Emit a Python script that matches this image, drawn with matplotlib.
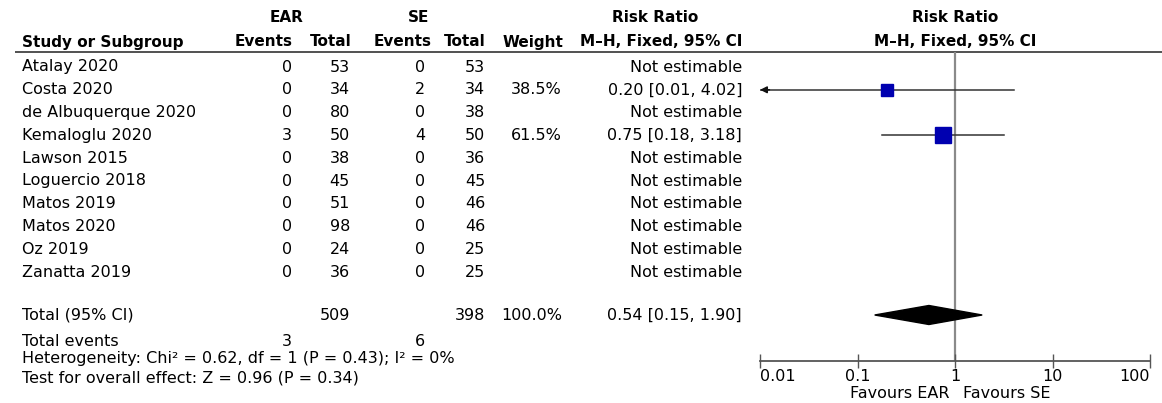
import matplotlib.pyplot as plt
import numpy as np

# Study level data
studies = ["Atalay 2020", "Costa 2020", "de Albuquerque 2020", "Kemaloglu 2020",
           "Lawson 2015", "Loguercio 2018", "Matos 2019", "Matos 2020",
           "Oz 2019", "Zanatta 2019"]
ear_events = [0, 0, 0, 3, 0, 0, 0, 0, 0, 0]
ear_total = [53, 34, 80, 50, 38, 45, 51, 98, 24, 36]
se_events = [0, 2, 0, 4, 0, 0, 0, 0, 0, 0]
se_total = [53, 34, 38, 50, 36, 45, 46, 46, 25, 25]
weights = [None, 38.5, None, 61.5, None, None, None, None, None, None]
rr = [None, 0.20, None, 0.75, None, None, None, None, None, None]
rr_low = [None, 0.01, None, 0.18, None, None, None, None, None, None]
rr_high = [None, 4.02, None, 3.18, None, None, None, None, None, None]

# Pooled results
total_ear = 509
total_se = 398
total_weight = 100.0
total_events_ear = 3
total_events_se = 6
pooled_rr, pooled_low, pooled_high = 0.54, 0.15, 1.90
heterogeneity = "Heterogeneity: Chi\u00b2 = 0.62, df = 1 (P = 0.43); I\u00b2 = 0%"
overall = "Test for overall effect: Z = 0.96 (P = 0.34)"

xticks = [0.01, 0.1, 1, 10, 100]
xtick_labels = ["0.01", "0.1", "1", "10", "100"]

#-------------------------------------------------------------------------------

W, H = 1162, 403
fig = plt.figure(figsize=(W / 100, H / 100), dpi=100)
plt.rcParams['font.family'] = 'DejaVu Sans'

# table axes in pixel coordinates
ax = fig.add_axes([0, 0, 1, 1])
ax.set_xlim(0, W)
ax.set_ylim(H, 0)
ax.axis('off')

fs = 11.5     # body text
fs_hdr = 11   # header text (bold)
col_study = 22
col_ear_ev, col_ear_tot = 292, 350
col_se_ev, col_se_tot = 425, 485
col_weight, col_rr = 562, 742
row0, row_step = 67, 22.8

# headers
hdr = dict(fontsize=fs_hdr, fontweight='bold', va='center')
ax.text(287, 18, "EAR", ha='center', **hdr)
ax.text(419, 18, "SE", ha='center', **hdr)
ax.text(655, 18, "Risk Ratio", ha='center', **hdr)
ax.text(col_study, 42, "Study or Subgroup", ha='left', **hdr)
ax.text(col_ear_ev + 1, 42, "Events", ha='right', **hdr)
ax.text(col_ear_tot + 2, 42, "Total", ha='right', **hdr)
ax.text(col_se_ev + 7, 42, "Events", ha='right', **hdr)
ax.text(col_se_tot + 1, 42, "Total", ha='right', **hdr)
ax.text(col_weight + 1, 42, "Weight", ha='right', **hdr)
ax.text(col_rr, 42, "M\u2013H, Fixed, 95% CI", ha='right', **hdr)
ax.text(955, 18, "Risk Ratio", ha='center', **hdr)
ax.text(955, 42, "M\u2013H, Fixed, 95% CI", ha='center', **hdr)
ax.hlines(52, 15, W, color='#333333', lw=1.2)

body = dict(fontsize=fs, va='center')
row_y = [row0 + i * row_step for i in range(len(studies))]
for i, y in enumerate(row_y):
  ax.text(col_study, y, studies[i], ha='left', **body)
  ax.text(col_ear_ev, y, str(ear_events[i]), ha='right', **body)
  ax.text(col_ear_tot, y, str(ear_total[i]), ha='right', **body)
  ax.text(col_se_ev, y, str(se_events[i]), ha='right', **body)
  ax.text(col_se_tot, y, str(se_total[i]), ha='right', **body)
  if weights[i] is not None:
    ax.text(col_weight, y, "{:.1f}%".format(weights[i]), ha='right', **body)
    ax.text(col_rr, y, "{:.2f} [{:.2f}, {:.2f}]".format(rr[i], rr_low[i], rr_high[i]), ha='right', **body)
  else:
    ax.text(col_rr, y, "Not estimable", ha='right', **body)

y_total = 315
ax.text(col_study, y_total, "Total (95% CI)", ha='left', **body)
ax.text(col_ear_tot, y_total, str(total_ear), ha='right', **body)
ax.text(col_se_tot, y_total, str(total_se), ha='right', **body)
ax.text(col_weight, y_total, "{:.1f}%".format(total_weight), ha='right', **body)
ax.text(col_rr, y_total, "{:.2f} [{:.2f}, {:.2f}]".format(pooled_rr, pooled_low, pooled_high), ha='right', **body)
ax.text(col_study, 341, "Total events", ha='left', **body)
ax.text(col_ear_ev, 341, str(total_events_ear), ha='right', **body)
ax.text(col_se_ev, 341, str(total_events_se), ha='right', **body)
ax.text(col_study, 359, heterogeneity, ha='left', **body)
ax.text(col_study, 378, overall, ha='left', **body)

#--- forest plot ---------------------------------------------------------------

ax_top, ax_bot = 52, 361
axf = fig.add_axes([760 / W, (H - ax_bot) / H, 390 / W, (ax_bot - ax_top) / H])
axf.set_xscale('log')
axf.set_xlim(0.01, 100)
axf.set_ylim(ax_bot, ax_top)
axf.patch.set_alpha(0)
for s in ['top', 'left', 'right']:
  axf.spines[s].set_visible(False)
axf.spines['bottom'].set_color('#555555')
axf.spines['bottom'].set_linewidth(1.3)
axf.set_yticks([])
axf.set_xticks(xticks)
axf.set_xticklabels(xtick_labels, fontsize=fs)
axf.minorticks_off()
axf.tick_params(axis='x', direction='inout', length=10, width=1, color='#555555', pad=1)
labels = axf.get_xticklabels()
labels[0].set_ha('left')
labels[-1].set_ha('right')

axf.axvline(1, color='#8a8a8a', lw=1.6, zorder=1)

for i, y in enumerate(row_y):
  if rr[i] is None:
    continue
  lo = max(rr_low[i], 0.01)
  axf.plot([lo, rr_high[i]], [y, y], color='#333333', lw=1.1, zorder=2)
  if rr_low[i] < 0.0101:
    axf.annotate("", xy=(0.01, y), xytext=(0.0125, y),
                 arrowprops=dict(arrowstyle='-|>', color='#111111', lw=1.1,
                                 mutation_scale=10, shrinkA=0, shrinkB=0))
  size = 14.7 * np.sqrt(weights[i] / 100.0)
  axf.plot(rr[i], y, marker='s', ms=size, color='#0000b0', mec='#0000b0', zorder=3)

hh = 9.5
axf.fill([pooled_low, pooled_rr, pooled_high, pooled_rr],
         [y_total, y_total - hh, y_total, y_total + hh], color='black', zorder=3)

axf.annotate("Favours EAR", xy=(1, 0), xycoords=('data', 'axes fraction'),
             xytext=(-6, -32), textcoords='offset pixels', ha='right', va='center', fontsize=fs)
axf.annotate("Favours SE", xy=(1, 0), xycoords=('data', 'axes fraction'),
             xytext=(8, -32), textcoords='offset pixels', ha='left', va='center', fontsize=fs)

fig.savefig("out.png", dpi=100)
